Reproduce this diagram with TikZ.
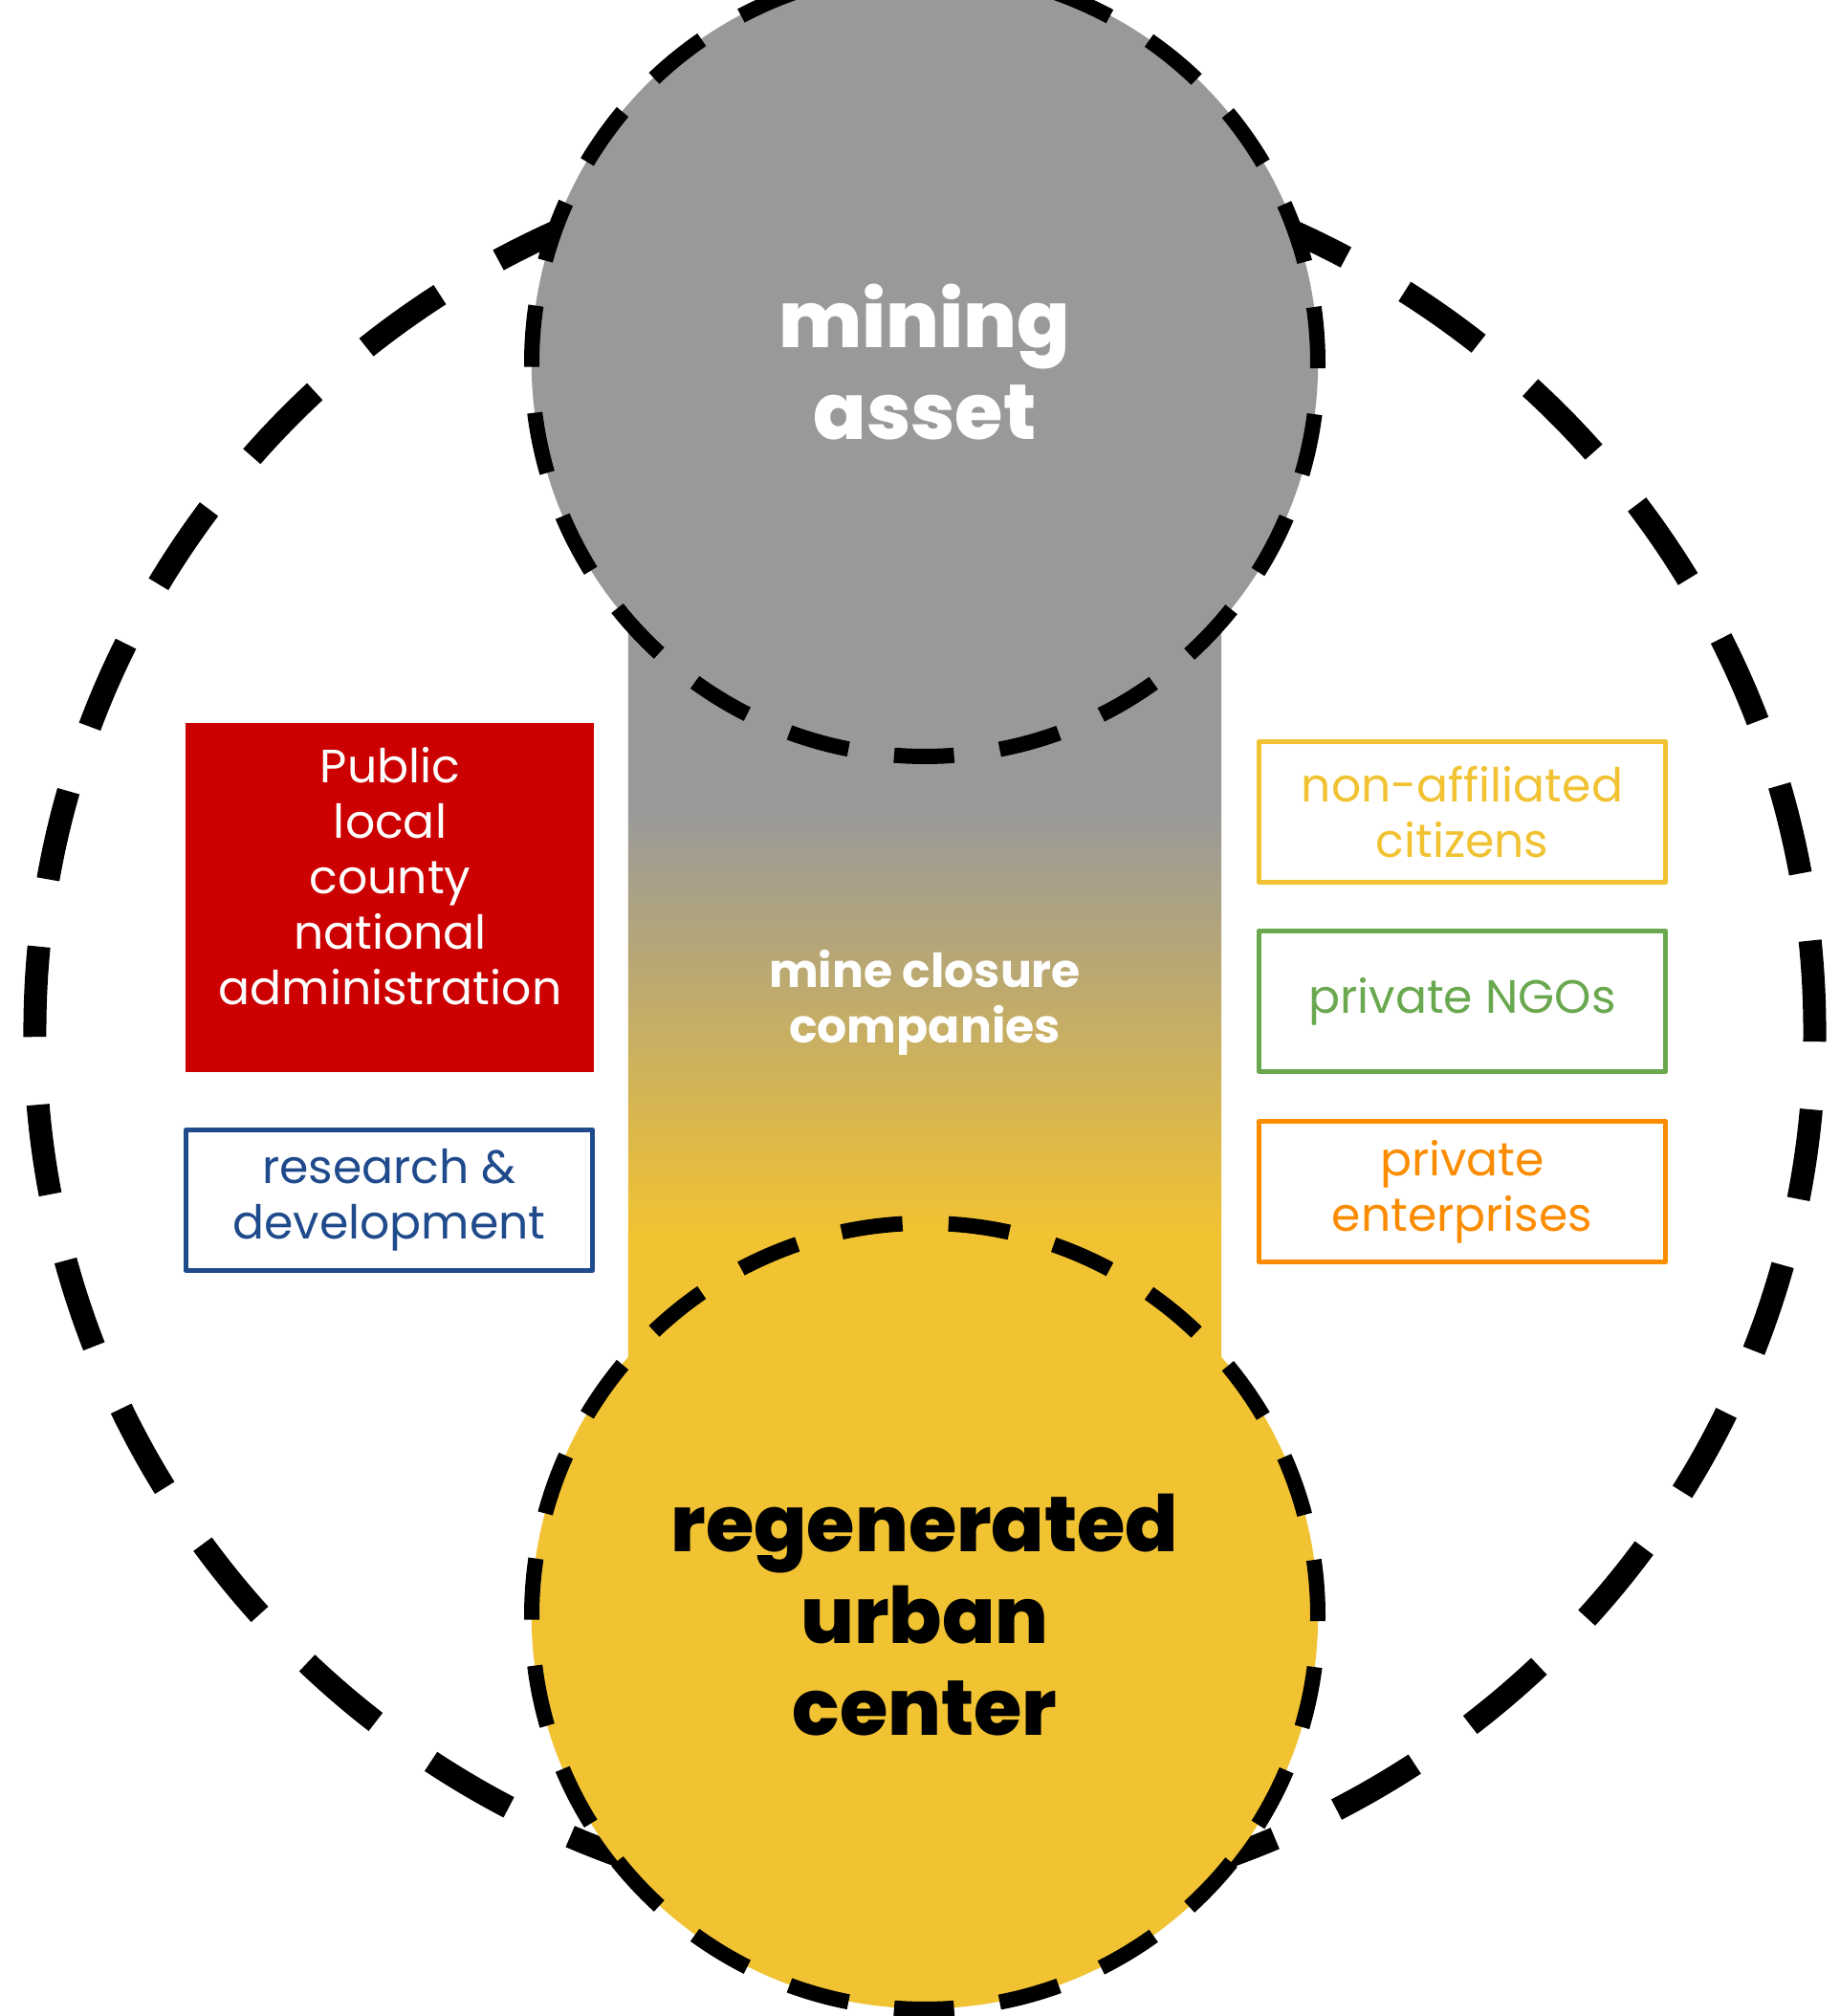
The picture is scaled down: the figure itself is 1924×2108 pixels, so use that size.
\documentclass[tikz,border=0pt]{standalone}
\usepackage{fontspec}
\setmainfont{Poppins}
\newfontfamily\heavyfont{Poppins ExtraBold}
\usetikzlibrary{shapes.geometric}
\definecolor{cgray}{HTML}{999999}
\definecolor{cyel}{HTML}{F1C232}
\definecolor{cred}{HTML}{CC0000}
\definecolor{cblue}{HTML}{1F4A8C}
\definecolor{cgreen}{HTML}{6AA84F}
\definecolor{corange}{HTML}{FB8C00}
\pgfdeclareverticalshading{bandshade}{100bp}{color(0bp)=(cyel); color(36bp)=(cyel); color(61.5bp)=(cgray); color(100bp)=(cgray)}
\begin{document}
\begin{tikzpicture}[x=0.01cm, y=-0.01cm,
  bigring/.style={draw=black, line width=6.83pt, dash pattern=on 26.9pt off 20.2pt},
  ring/.style={draw=black, line width=4.55pt, dash pattern=on 18.25pt off 13.7pt, dash phase=9.12pt},
  bubble/.style={circle, inner sep=0pt, minimum size=8.22cm, align=center},
  heavy/.style={font=\heavyfont\fontsize{23.2}{27.3}\selectfont},
  body/.style={font=\fontsize{13.9}{16.5}\selectfont, align=center},
  outlinebox/.style={rectangle, line width=1.4pt, minimum width=4.25cm, minimum height=1.47cm, inner sep=0pt, fill=white, line join=round, body}
]
\useasboundingbox (0,0) rectangle (1924,2108);
\clip (0,0) rectangle (1924,2108);
\fill[white] (0,0) rectangle (1924,2108);

% outer dashed ring
\node[ellipse, bigring, inner sep=0pt, minimum width=18.6cm, minimum height=18.35cm] (outer) at (967,1078) {};

% gradient band
\node[rectangle, shade, shading=bandshade, minimum width=6.2cm, minimum height=8.64cm, inner sep=0pt,
      text=white, font=\bfseries\fontsize{13.9}{16.5}\selectfont, align=center] (band) at (967,1048) {mine closure\\companies};

% mining asset
\node[bubble, fill=cgray, text=white, heavy] (mine) at (967,379) {mining\\asset};
\draw[ring] (mine.south) arc[start angle=90, end angle=450, radius=411];

% regenerated urban center
\node[bubble, fill=cyel, text=black, heavy] (urban) at (967,1689) {regenerated\\urban\\center};
\draw[ring] (urban.south) arc[start angle=90, end angle=450, radius=411];

% left boxes
\node[rectangle, fill=cred, minimum width=4.27cm, minimum height=3.65cm, inner sep=0pt] (public) at (407.5,938.5) {};
\node[body, text=white] (publictext) at (408,916) {Public\\local\\county\\national\\administration};
\node[outlinebox, draw=cblue, text=cblue] (rd) at (407,1255) {research \&\\development};

% right boxes
\node[outlinebox, draw=cyel, text=cyel] (citizens) at (1529,849) {non-affiliated\\citizens};
\node[outlinebox, draw=cgreen, text=cgreen] (ngos) at (1529,1047) {private NGOs};
\node[outlinebox, draw=corange, text=corange] (enterprises) at (1529,1246) {private\\enterprises};
\end{tikzpicture}
\end{document}
